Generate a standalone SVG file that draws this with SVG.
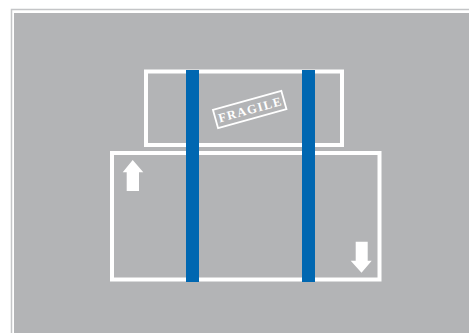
<svg xmlns="http://www.w3.org/2000/svg" width="469" height="333" viewBox="0 0 469 333">
  <style>
    .box { fill: none; stroke: #ffffff; stroke-width: 4; }
    .strap { fill: #0067b1; }
    .arrow { fill: #ffffff; }
    .stamp { fill: none; stroke: #ffffff; stroke-width: 1.8; }
    .stamp-text { fill: #ffffff; font-family: "Liberation Serif", "DejaVu Serif", serif; font-weight: bold; font-size: 12.5px; letter-spacing: 1.3px; }
  </style>
  <rect x="0" y="0" width="469" height="333" fill="#ffffff"/>
  <rect x="11.5" y="9.5" width="470" height="340" fill="none" stroke="#c4c5c7" stroke-width="1.5"/>
  <rect x="14" y="13" width="460" height="325" fill="#b3b4b6"/>

  <g id="top-box">
    <rect class="box" x="146" y="71.5" width="196" height="73.5"/>
    <g id="fragile-stamp" transform="translate(249.7 109.5) rotate(-15.6)">
      <rect class="stamp" x="-35.5" y="-9.5" width="71" height="19"/>
      <text class="stamp-text" x="0.6" y="4.4" text-anchor="middle">FRAGILE</text>
    </g>
  </g>

  <g id="bottom-box">
    <rect class="box" x="112" y="153" width="267.5" height="126.5"/>
    <polygon id="up-arrow" class="arrow" points="132.7,160 143.3,172.3 139,172.3 139,191 126.7,191 126.7,172.3 122.7,172.3"/>
    <polygon id="down-arrow" class="arrow" points="355.7,241.7 367.7,241.7 367.7,260.7 371.7,260.7 361.5,272.7 350.7,260.7 355.7,260.7"/>
  </g>

  <g id="straps">
    <rect class="strap" x="186" y="70" width="13" height="212"/>
    <rect class="strap" x="302" y="70" width="13" height="212"/>
  </g>
</svg>
